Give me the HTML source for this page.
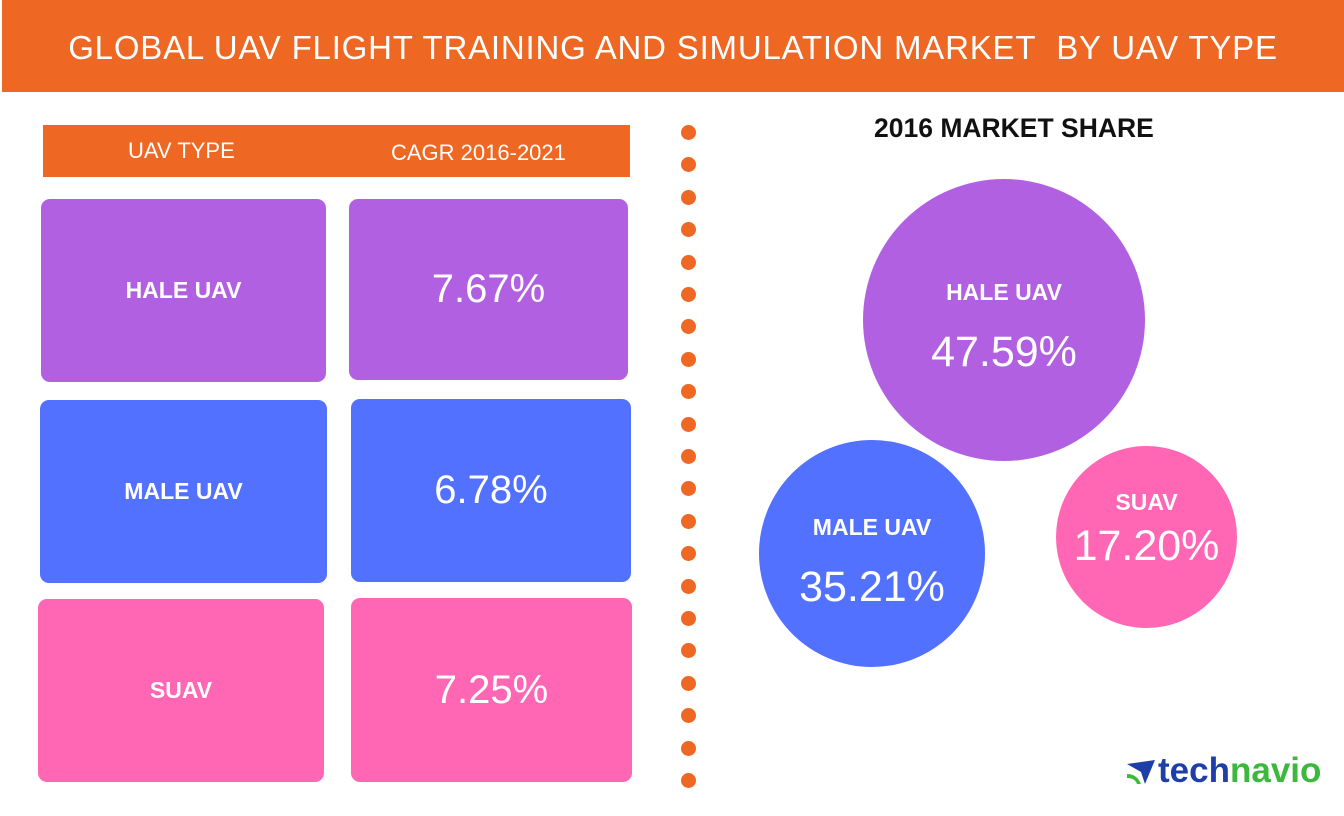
<!DOCTYPE html>
<html><head><style>
body{margin:0;width:1344px;height:816px;background:#fff;position:relative;overflow:hidden;font-family:"Liberation Sans",sans-serif}
.a{position:absolute}
.hdr{left:2px;top:0;width:1342px;height:92px;background:#ee6723;color:#fff;font-size:33px;line-height:96px;text-align:center;letter-spacing:0.8px}
.th{left:43px;top:125px;width:587px;height:52px;background:#ee6723;color:#fff;font-size:22px}
.b{border-radius:9px;color:#fff;display:flex;align-items:center;justify-content:center}
.l{font-weight:bold;font-size:23px}
.v{font-size:40px}
.p{background:#b260e2}.bl{background:#5271ff}.pk{background:#ff66b3}
.dot{width:15px;height:15px;border-radius:50%;background:#ee6723;left:681px}
.c{border-radius:50%;color:#fff;text-align:center}
</style></head><body>
<div class="a hdr">GLOBAL UAV FLIGHT TRAINING AND SIMULATION MARKET&nbsp; BY UAV TYPE</div>
<div class="a th"><span class="a" style="left:85px;top:13px">UAV TYPE</span><span class="a" style="left:348px;top:15px">CAGR 2016-2021</span></div>
<div class="a b p l" style="left:41px;top:199px;width:285px;height:183px">HALE UAV</div>
<div class="a b p v" style="left:349px;top:199px;width:279px;height:181px">7.67%</div>
<div class="a b bl l" style="left:40px;top:400px;width:287px;height:183px">MALE UAV</div>
<div class="a b bl v" style="left:351px;top:399px;width:280px;height:183px">6.78%</div>
<div class="a b pk l" style="left:38px;top:599px;width:286px;height:183px">SUAV</div>
<div class="a b pk v" style="left:351px;top:598px;width:281px;height:184px">7.25%</div>
<div id="dots"></div>
<script>
var s='';for(var i=0;i<21;i++){s+='<div class="a dot" style="top:'+(125+i*32.4)+'px"></div>';}document.getElementById('dots').innerHTML=s;
</script>
<div class="a" style="left:874px;top:113px;font-size:26.5px;font-weight:bold;color:#111">2016 MARKET SHARE</div>
<div class="a c p" style="left:863px;top:179px;width:282px;height:282px"><div style="margin-top:100px;font-size:23px;font-weight:bold">HALE UAV</div><div style="margin-top:22px;font-size:43px">47.59%</div></div>
<div class="a c bl" style="left:759px;top:440px;width:226px;height:227px"><div style="margin-top:74px;font-size:23px;font-weight:bold">MALE UAV</div><div style="margin-top:22px;font-size:43px">35.21%</div></div>
<div class="a c pk" style="left:1056px;top:446px;width:181px;height:182px"><div style="margin-top:43px;font-size:23px;font-weight:bold">SUAV</div><div style="margin-top:6px;font-size:43px">17.20%</div></div>
<svg class="a" style="left:1125px;top:758px" width="32" height="28"><polygon points="2,6 30,2 20,26 16,14" fill="#1f3fa8"/><path d="M2,16 Q12,16 16,26 L12,26 Q10,20 2,20Z" fill="#3cb83c"/></svg>
<div class="a" style="left:1158px;top:751px;font-size:35px;font-weight:bold"><span style="color:#1f3fa8">tech</span><span style="color:#3cb83c">navio</span></div>
</body></html>
